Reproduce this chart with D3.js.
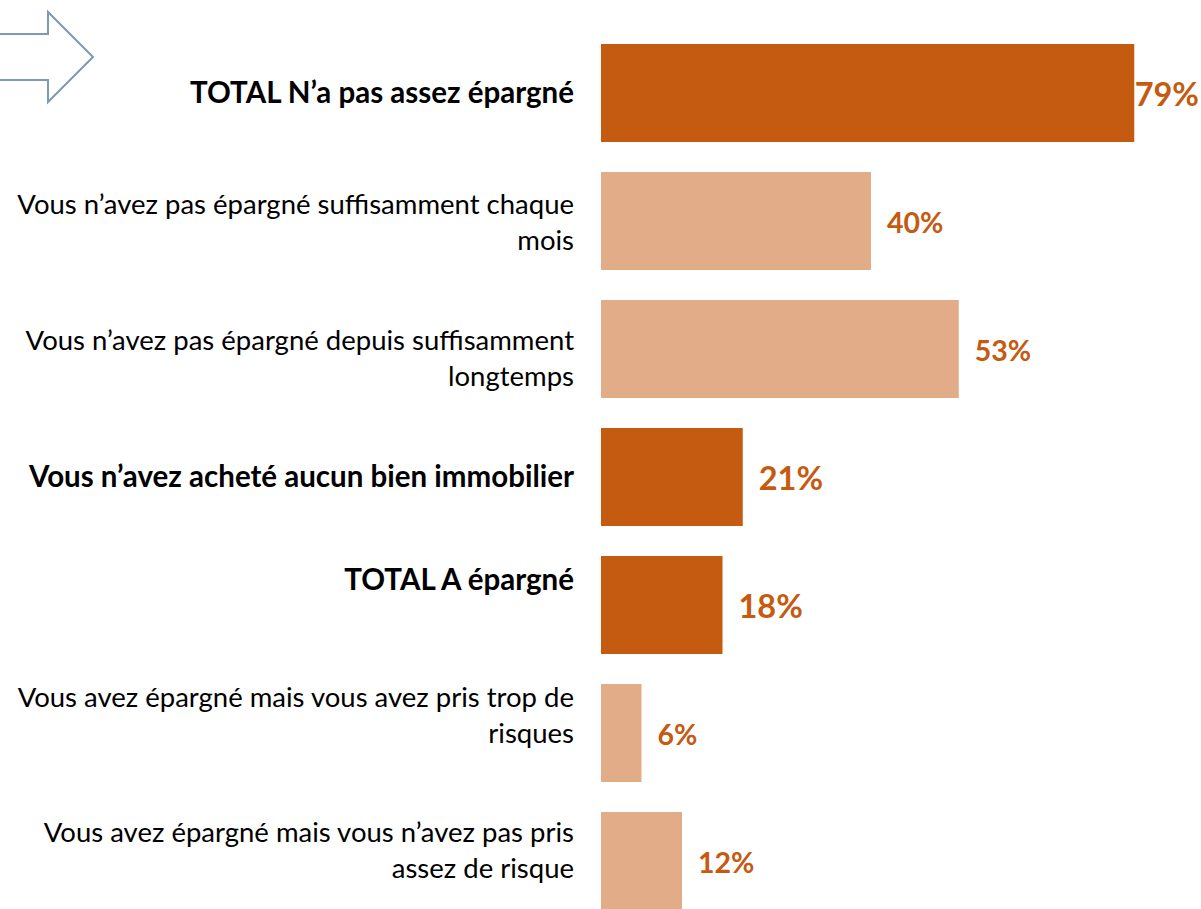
<!DOCTYPE html>
<html><head><meta charset="utf-8">
<script src="https://cdn.jsdelivr.net/npm/d3@7"></script>
<style>body{margin:0;background:#fff}svg{display:block}</style>
</head><body>
<svg id="c" width="1201" height="909"></svg>
<script>
const categories = [
  "TOTAL N’a pas assez épargné",
  "Vous n’avez pas épargné suffisamment chaque\nmois",
  "Vous n’avez pas épargné depuis suffisamment\nlongtemps",
  "Vous n’avez acheté aucun bien immobilier",
  "TOTAL A épargné",
  "Vous avez épargné mais vous avez pris trop de\nrisques",
  "Vous avez épargné mais vous n’avez pas pris\nassez de risque"
];
const values = [79, 40, 53, 21, 18, 6, 12];
const isTotal = [true, false, false, true, true, false, false];

// layout (not data)
const labelShift = [0, 1, 9, 0, -25, -18, -11];

const svg = d3.select("#c");
const W = 1201;
const font = "Lato, 'Open Sans', sans-serif";
const y = d3.scaleBand().domain(d3.range(categories.length)).range([29, 925])
  .paddingInner(30/128).paddingOuter(15/128);
const x = d3.scaleLinear().domain([0, 100]).range([601, 1276]);
const dark = "#C55A11", light = "#E2AC88";

// arrow
svg.append("path")
  .attr("d", "M-5,34 L48,34 L48,12 L93,57 L48,102 L48,80 L-5,80")
  .attr("fill", "#fff").attr("stroke", "#7F98B3").attr("stroke-width", 2);

svg.selectAll("rect.bar").data(values).join("rect")
  .attr("class", "bar")
  .attr("x", x(0)).attr("y", (d, i) => y(i))
  .attr("width", d => x(d) - x(0)).attr("height", y.bandwidth())
  .attr("fill", (d, i) => isTotal[i] ? dark : light);

const lineH = 36;
categories.forEach((c, i) => {
  const lines = c.split("\n");
  const cy = y(i) + y.bandwidth() / 2 + labelShift[i];
  const t = svg.append("text")
    .attr("text-anchor", "end")
    .attr("font-family", font)
    .attr("font-size", isTotal[i] ? 29.5 : 27.5)
    .attr("font-weight", isTotal[i] ? 700 : 400)
    .attr("fill", "#000");
  lines.forEach((l, k) => {
    t.append("tspan").attr("x", 574)
      .attr("y", cy + (k - (lines.length - 1) / 2) * lineH)
      .attr("dy", "0.35em").text(l);
  });
});

svg.selectAll("text.val").data(values).join("text")
  .attr("class", "val")
  .attr("font-family", font)
  .attr("font-size", (d, i) => isTotal[i] ? 32.5 : 28.5)
  .attr("font-weight", 700)
  .attr("fill", dark)
  .attr("y", (d, i) => y(i) + y.bandwidth() / 2 + 2)
  .attr("dy", "0.35em")
  .text(d => d + "%")
  .attr("x", function(d) {
    const w = this.getComputedTextLength();
    return Math.min(x(d) + 16, W - 2 - w);
  });
</script>
</body></html>
